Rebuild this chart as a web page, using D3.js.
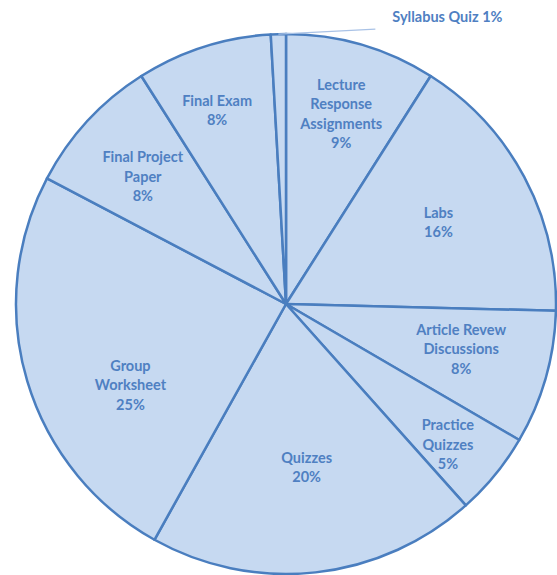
<!DOCTYPE html>
<html>
<head>
<meta charset="utf-8">
<script src="https://cdn.jsdelivr.net/npm/d3@7"></script>
<style>
  body { margin: 0; background: #fff; }
  text { font-family: Lato, "Open Sans", sans-serif; font-weight: bold; }
</style>
</head>
<body>
<div id="chart"></div>
<script>
// slices, clockwise from 12 o'clock
var categories = ['Lecture\nResponse\nAssignments', 'Labs', 'Article Revew\nDiscussions', 'Practice\nQuizzes',
	'Quizzes', 'Group\nWorksheet', 'Final Project\nPaper', 'Final Exam', 'Syllabus Quiz'];
var shares = [ 9, 16.4, 8, 5, 19.7, 24.6, 8.3, 8.1, 0.9 ];

// label placement: fraction of radius, angle nudge (deg)
var labelK = [ 0.733, 0.64, 0.67, 0.795, 0.61, 0.65, 0.71, 0.76 ];
var labelNudge = [ 0, 0, -1.4, 1.8, -0.9, -11, -1, -1.8 ];

var w = 557,
	h = 575;
var cx = 286,
	cy = 304,
	r = 270;

var fillColor = '#c6d9f1',
	lineColor = '#4a7ebf',
	textColor = '#4f80c2';

var svg = d3.select('#chart').append('svg').attr('width', w).attr('height', h);

var g = svg.append('g').attr('transform', 'translate(' + cx + ',' + cy + ')');

var pie = d3.pie().sort(null).value(function(d) {
	return d;
});
var arcs = pie(shares);

var arc = d3.arc().innerRadius(0).outerRadius(r);

g
	.selectAll('.slice')
	.data(arcs)
	.enter()
	.append('path')
	.attr('class', 'slice')
	.attr('d', arc)
	.attr('fill', fillColor)
	.attr('stroke', lineColor)
	.attr('stroke-width', 2.5)
	.attr('stroke-linejoin', 'round');

var fmt = function(v) {
	return Math.round(v) + '%';
};

// inside labels
var fs = 14.5,
	lh = 19.5;
arcs.slice(0, 8).forEach(function(d, i) {
	var a = (d.startAngle + d.endAngle) / 2 + labelNudge[i] * Math.PI / 180;
	var rr = r * labelK[i];
	var x = Math.sin(a) * rr,
		y = -Math.cos(a) * rr;
	var lines = categories[i].split('\n').concat([ fmt(d.data) ]);
	var t = g
		.append('text')
		.attr('text-anchor', 'middle')
		.attr('fill', textColor)
		.attr('font-size', fs)
		.attr('x', x)
		.attr('y', y - (lines.length - 1) * lh / 2 + 5);
	t
		.selectAll('tspan')
		.data(lines)
		.enter()
		.append('tspan')
		.attr('x', x)
		.attr('dy', function(l, j) {
			return j == 0 ? 0 : lh;
		})
		.text(function(l) {
			return l;
		});
});

// outside label for the thin slice, with leader line
var last = arcs[8];
var la = (last.startAngle + last.endAngle) / 2;
var p0 = [ Math.sin(la) * r, -Math.cos(la) * r ];
var p1 = [ p0[0] + 97, p0[1] - 5 ];
g
	.append('line')
	.attr('x1', p0[0])
	.attr('y1', p0[1])
	.attr('x2', p1[0])
	.attr('y2', p1[1])
	.attr('stroke', '#a9c2e6')
	.attr('stroke-width', 1.2);
g
	.append('text')
	.attr('x', p1[0] + 17)
	.attr('y', p1[1] - 7)
	.attr('fill', textColor)
	.attr('font-size', fs)
	.text(categories[8] + ' ' + fmt(last.data));
</script>
</body>
</html>
